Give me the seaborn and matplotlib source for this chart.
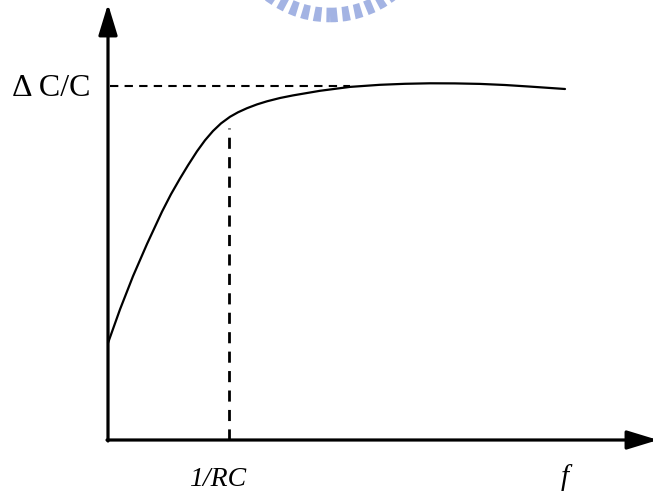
import numpy as np
import pandas as pd
import matplotlib
matplotlib.use("Agg")
import matplotlib.pyplot as plt
from matplotlib.patches import Circle
import seaborn as sns

# Frequency response of the capacitance change (arbitrary units)
freq = [0.00, 0.12, 0.25, 0.39, 0.54, 0.63, 0.72, 0.80, 0.89, 0.97, 1.05,
        1.13, 1.22, 1.30, 1.39, 1.49, 1.59, 1.72, 1.85, 2.12, 2.42, 2.72,
        2.97, 3.22, 3.47, 3.72, 3.97, 4.22, 4.57]
dc_over_c = [0.97, 1.306, 1.638, 1.96, 2.283, 2.458, 2.615, 2.747, 2.887,
             2.997, 3.09, 3.166, 3.232, 3.277, 3.318, 3.356, 3.387, 3.42,
             3.446, 3.492, 3.531, 3.552, 3.562, 3.567, 3.566, 3.561, 3.55,
             3.534, 3.51]

corner_freq = 1.21          # 1/RC
corner_top = 3.12           # top of the 1/RC marker
plateau = 3.54              # ΔC/C level
plateau_end = 2.42

labels = {"y": "\u0394 C/C", "rc": "1/RC", "f": "f"}

sns.set_theme(style="white")
plt.rcParams["font.family"] = ["Liberation Serif", "DejaVu Serif"]

fig = plt.figure(figsize=(6.53, 4.95), dpi=100)
ax = fig.add_axes([0, 0, 1, 1])
ax.set_xlim(-1.08, 5.45)
ax.set_ylim(-0.55, 4.40)
ax.axis("off")

# faint logo ring at the top
ring = Circle((2.22, 5.25), 1.00, fill=False, lw=10.5, ec="#93a6de", alpha=0.85,
              linestyle=(0, (0.5, 0.34)), zorder=0)
ax.add_patch(ring)

df = pd.DataFrame({"f": freq, "dC": dc_over_c})
sns.lineplot(data=df, x="f", y="dC", ax=ax, color="black", lw=1.6,
             sort=False, estimator=None)
ax.lines[-1].set_solid_joinstyle("round")

# reference lines
ax.plot([0.02, plateau_end], [plateau, plateau], color="black", lw=1.5,
        dashes=(4, 3))
ax.plot([corner_freq, corner_freq], [0, corner_top], color="black", lw=2.0,
        dashes=(4, 3))

# axes with arrowheads
arrow = dict(arrowstyle="-|>,head_length=1.9,head_width=0.58",
             mutation_scale=10, lw=2.3, color="black", shrinkA=0, shrinkB=0)
ax.annotate("", xy=(5.50, 0), xytext=(-0.01, 0), arrowprops=arrow,
            annotation_clip=False)
ax.annotate("", xy=(0, 4.36), xytext=(0, -0.01), arrowprops=arrow)

ax.text(-0.18, 3.51, labels["y"], fontsize=23, ha="right", va="center",
        color="black")
ax.text(1.10, -0.40, labels["rc"], fontsize=20, ha="center", va="center",
        style="italic", color="black")
ax.text(4.57, -0.38, labels["f"], fontsize=21, ha="center", va="center",
        style="italic", color="black")

fig.savefig("out.png", dpi=100)
